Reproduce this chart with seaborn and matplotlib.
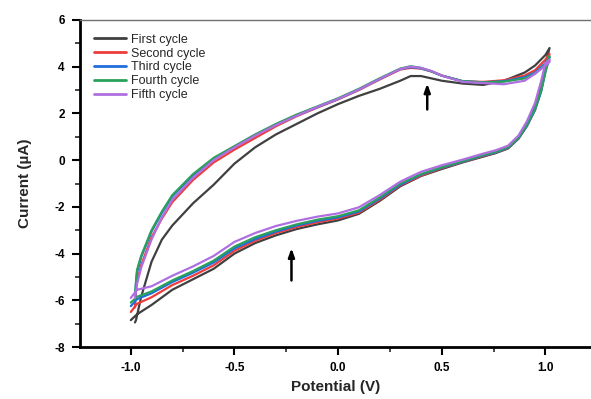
"""
Cyclic voltammogram, five cycles
"""
import numpy as np
import pandas as pd
import matplotlib
matplotlib.use("Agg")
import matplotlib.pyplot as plt
from matplotlib.ticker import MultipleLocator
import seaborn as sns

# --- data ---
CYCLES = ["First cycle", "Second cycle", "Third cycle", "Fourth cycle", "Fifth cycle"]
COLORS = ["#404040", "#ee3b3b", "#1f6fdc", "#2aa05c", "#b06fe0"]

# lower (cathodic) branch
X_LOW = [-1.00, -0.97, -0.90, -0.80, -0.70, -0.60, -0.50, -0.40, -0.30, -0.20,
         -0.10, 0.00, 0.10, 0.20, 0.30, 0.40, 0.50, 0.60, 0.70, 0.76,
         0.82, 0.87, 0.91, 0.95, 0.98, 1.00, 1.02]
LOW_1 = [-6.85, -6.60, -6.20, -5.55, -5.10, -4.65, -4.00, -3.55, -3.22, -2.95,
         -2.75, -2.58, -2.30, -1.75, -1.12, -0.68, -0.38, -0.10, 0.15, 0.30,
         0.50, 0.92, 1.48, 2.25, 3.15, 4.10, 4.80]
LOW_2 = [-6.50, -6.15, -5.87, -5.35, -4.95, -4.50, -3.88, -3.45, -3.12, -2.86,
         -2.66, -2.50, -2.25, -1.70, -1.08, -0.66, -0.34, -0.08, 0.18, 0.32,
         0.52, 0.92, 1.45, 2.15, 3.00, 3.90, 4.55]
LOW_3 = [-6.25, -5.95, -5.70, -5.22, -4.82, -4.38, -3.78, -3.38, -3.06, -2.80,
         -2.60, -2.45, -2.20, -1.65, -1.05, -0.62, -0.32, -0.07, 0.20, 0.33,
         0.53, 0.93, 1.45, 2.15, 2.95, 3.80, 4.40]
LOW_4 = [-6.10, -5.85, -5.62, -5.15, -4.75, -4.30, -3.70, -3.30, -3.00, -2.75,
         -2.55, -2.40, -2.15, -1.60, -1.00, -0.60, -0.30, -0.05, 0.22, 0.35,
         0.55, 0.95, 1.50, 2.20, 3.00, 3.75, 4.45]
LOW_5 = [-5.90, -5.55, -5.40, -4.95, -4.55, -4.10, -3.50, -3.12, -2.82, -2.60,
         -2.42, -2.28, -2.02, -1.50, -0.92, -0.50, -0.22, 0.02, 0.28, 0.42,
         0.62, 1.05, 1.65, 2.45, 3.40, 4.15, 4.30]

# upper (anodic) branch
X_UP = [-0.98, -0.975, -0.97, -0.95, -0.90, -0.85, -0.80, -0.70, -0.60, -0.50,
        -0.40, -0.30, -0.20, -0.10, 0.00, 0.10, 0.20, 0.30, 0.35, 0.40,
        0.45, 0.50, 0.60, 0.70, 0.80, 0.90, 0.95, 1.00, 1.02]
UP_1 = [-6.95, -6.85, -6.65, -5.85, -4.35, -3.40, -2.80, -1.85, -1.05, -0.15,
        0.55, 1.10, 1.55, 2.00, 2.40, 2.75, 3.05, 3.40, 3.60, 3.60,
        3.50, 3.40, 3.28, 3.22, 3.40, 3.75, 4.05, 4.50, 4.80]
UP_2 = [-6.30, -5.60, -5.20, -4.50, -3.30, -2.50, -1.80, -0.85, -0.10, 0.45,
        0.95, 1.45, 1.88, 2.25, 2.60, 3.00, 3.45, 3.88, 3.95, 3.92,
        3.80, 3.62, 3.38, 3.35, 3.42, 3.62, 3.85, 4.30, 4.55]
UP_3 = [-6.00, -5.30, -4.80, -4.15, -3.05, -2.25, -1.55, -0.65, 0.05, 0.57,
        1.07, 1.52, 1.92, 2.27, 2.62, 3.02, 3.47, 3.90, 3.98, 3.93,
        3.80, 3.62, 3.38, 3.33, 3.38, 3.55, 3.75, 4.15, 4.40]
UP_4 = [-5.75, -5.20, -4.70, -4.10, -3.00, -2.20, -1.50, -0.60, 0.10, 0.60,
        1.10, 1.55, 1.95, 2.30, 2.65, 3.05, 3.50, 3.92, 4.02, 3.95,
        3.80, 3.62, 3.38, 3.33, 3.36, 3.50, 3.70, 4.10, 4.45]
UP_5 = [-5.90, -5.60, -5.30, -4.60, -3.40, -2.45, -1.70, -0.75, 0.00, 0.55,
        1.05, 1.50, 1.90, 2.28, 2.62, 3.02, 3.47, 3.90, 4.00, 3.95,
        3.82, 3.62, 3.35, 3.30, 3.25, 3.40, 3.70, 4.05, 4.20]

LOWS = [LOW_1, LOW_2, LOW_3, LOW_4, LOW_5]
UPS = [UP_1, UP_2, UP_3, UP_4, UP_5]

# peak markers (arrows): x, tail y, head y
ARROWS = [(0.43, 2.05, 3.40), (-0.225, -5.27, -3.65)]


def main():
    sns.set_style("ticks")
    plt.rcParams["font.family"] = ["Liberation Sans", "DejaVu Sans"]
    plt.rcParams["axes.unicode_minus"] = False

    rows = []
    for name, low, up in zip(CYCLES, LOWS, UPS):
        path_x = list(X_LOW) + list(X_UP[::-1])
        path_y = list(low) + list(up[::-1])
        for i, (px, py) in enumerate(zip(path_x, path_y)):
            rows.append({"cycle": name, "order": i, "E": px, "I": py})
    df = pd.DataFrame(rows)

    fig = plt.figure(figsize=(5.91, 3.99), dpi=100)
    ax = fig.add_axes([0.1354, 0.1303, 0.8646, 0.8196])

    for name, color in zip(CYCLES, COLORS):
        sub = df[df["cycle"] == name].sort_values("order")
        sns.lineplot(data=sub, x="E", y="I", sort=False, estimator=None,
                     color=color, linewidth=1.6, label=name, ax=ax)

    for x, y0, y1 in ARROWS:
        ax.annotate("", xy=(x, y1), xytext=(x, y0),
                    arrowprops=dict(arrowstyle="-|>,head_length=0.5,head_width=0.18",
                                    color="black", lw=1.8))

    ax.set_xlim(-1.245, 1.22)
    ax.set_ylim(-8, 6)
    ax.xaxis.set_major_locator(MultipleLocator(0.5))
    ax.xaxis.set_minor_locator(MultipleLocator(0.25))
    ax.yaxis.set_major_locator(MultipleLocator(2))
    ax.yaxis.set_minor_locator(MultipleLocator(1))
    ax.set_xticks([-1.0, -0.5, 0.0, 0.5, 1.0])
    ax.set_xticklabels(["-1.0", "-0.5", "0.0", "0.5", "1.0"])

    ax.tick_params(which="major", direction="out", length=6, width=1.5,
                   labelsize=8.5, colors="black", pad=5)
    ax.tick_params(which="minor", direction="out", length=3.5, width=1.2)
    for lab in ax.get_xticklabels() + ax.get_yticklabels():
        lab.set_fontweight("bold")

    ax.spines["left"].set_linewidth(2.0)
    ax.spines["bottom"].set_linewidth(2.0)
    ax.spines["left"].set_color("black")
    ax.spines["bottom"].set_color("black")
    ax.spines["top"].set_visible(True)
    ax.spines["top"].set_linewidth(1.0)
    ax.spines["top"].set_color("#707070")
    ax.spines["right"].set_visible(False)

    ax.set_xlabel("Potential (V)", fontsize=11, fontweight="bold", labelpad=4)
    ax.set_ylabel("Current (\u00b5A)", fontsize=11, fontweight="bold", labelpad=16)

    leg = ax.legend(loc="upper left", bbox_to_anchor=(0.01, 0.985), frameon=False,
                    fontsize=9, handlelength=2.6, handletextpad=0.4,
                    labelspacing=0.15, borderaxespad=0.3)
    for line in leg.get_lines():
        line.set_linewidth(2.0)

    fig.savefig("out.png", dpi=100)
    plt.close(fig)


if __name__ == "__main__":
    main()
